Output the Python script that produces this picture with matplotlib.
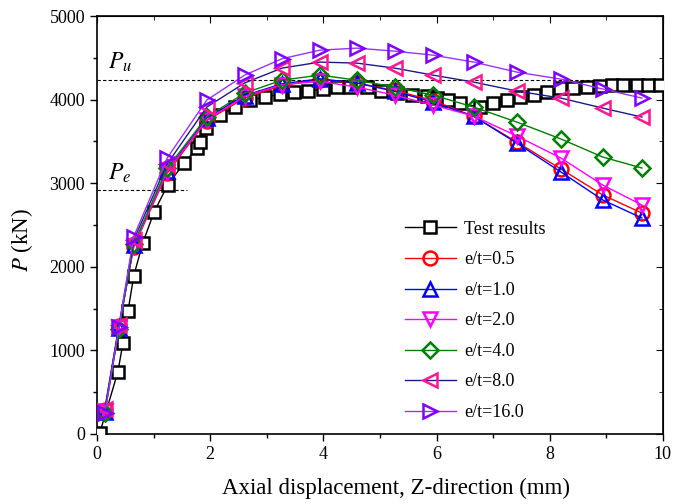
import matplotlib.pyplot as plt
from matplotlib.ticker import MultipleLocator

plt.rcParams['font.family'] = 'Liberation Serif'
plt.rcParams['mathtext.fontset'] = 'stix'

# test curve
test_x = [0.05, 0.37, 0.46, 0.55, 0.65, 0.81, 1.01, 1.25, 1.54, 1.77, 1.82, 1.93,
          2.17, 2.44, 2.70, 2.97, 3.23, 3.48, 3.73, 3.99, 4.24, 4.47, 4.77, 5.02,
          5.30, 5.57, 5.83, 6.00, 6.20, 6.41, 6.77, 7.00, 7.24, 7.47, 7.72, 7.95,
          8.18, 8.41, 8.66, 8.89, 9.10, 9.29, 9.54, 9.73, 9.95]
test_p = [10, 742, 1089, 1471, 1890, 2285, 2656, 2978, 3242, 3421, 3493, 3660,
          3816, 3911, 3995, 4031, 4067, 4091, 4103, 4127, 4151, 4151, 4151, 4103,
          4079, 4055, 4043, 4019, 3995, 3959, 3911, 3959, 3995, 4031, 4055, 4091,
          4139, 4139, 4151, 4163, 4175, 4175, 4175, 4175, 4175]

# FE curves for each eccentricity ratio
fe_x = [0.14, 0.39, 0.65, 1.24, 1.94, 2.61, 3.27, 3.94, 4.59, 5.26, 5.94, 6.66,
        7.42, 8.20, 8.94, 9.63]
p_05 = [290, 1290, 2240, 3120, 3750, 4020, 4170, 4240, 4200, 4110, 3990, 3800,
        3493, 3170, 2859, 2643]
p_10 = [260, 1270, 2260, 3150, 3780, 4050, 4190, 4250, 4200, 4100, 3970, 3800,
        3480, 3134, 2799, 2584]
p_20 = [270, 1280, 2250, 3140, 3760, 4040, 4180, 4220, 4151, 4055, 3935, 3804,
        3565, 3301, 2978, 2739]
p_40 = [250, 1260, 2270, 3180, 3792, 4079, 4234, 4294, 4234, 4151, 4055, 3911,
        3732, 3529, 3313, 3182]
p_80 = [300, 1300, 2320, 3230, 3911, 4200, 4378, 4450, 4438, 4378, 4294, 4210,
        4103, 4019, 3899, 3792]
p_160 = [250, 1280, 2360, 3300, 3995, 4294, 4490, 4593, 4617, 4581, 4533, 4450,
         4330, 4246, 4127, 4019]

P_u = 4230
P_e = 2920

fig = plt.figure(figsize=(6.73, 5.04), dpi=100)
ax = fig.add_axes([0.144, 0.139, 0.841, 0.829])

ms = 9
mew = 1.8
ax.plot(test_x, test_p, color='black', lw=1, marker='s', ms=ms, mfc='white',
        mec='black', mew=mew, label='Test results', zorder=3)
series = [
    (p_05, 'e/t=0.5', 'red', 'red', 'o'),
    (p_10, 'e/t=1.0', 'blue', 'blue', '^'),
    (p_20, 'e/t=2.0', '#ff00ff', '#ff00ff', 'v'),
    (p_40, 'e/t=4.0', '#008000', '#008000', 'D'),
    (p_80, 'e/t=8.0', '#1a1a8c', '#ff1493', '<'),
    (p_160, 'e/t=16.0', '#9933ff', '#8000ff', '>'),
]
for p, lab, lc, mc, m in series:
    size = ms - 1 if m == 'D' else ms + 1
    ax.plot(fe_x, p, color=lc, lw=1, marker=m, ms=size, mfc='none',
            mec=mc, mew=mew, label=lab, zorder=4)

ax.plot([0, 10], [P_u, P_u], ls='--', color='black', lw=0.8, dashes=(3, 2))
ax.plot([0, 1.6], [P_e, P_e], ls='--', color='black', lw=0.8, dashes=(3, 2))
ax.text(0.2, 4370, r'$P_u$', fontsize=17)
ax.text(0.2, 3040, r'$P_e$', fontsize=17)

ax.set_xlim(0, 10)
ax.set_ylim(0, 5000)
ax.xaxis.set_major_locator(MultipleLocator(2))
ax.xaxis.set_minor_locator(MultipleLocator(1))
ax.yaxis.set_major_locator(MultipleLocator(1000))
ax.yaxis.set_minor_locator(MultipleLocator(500))
ax.tick_params(which='both', direction='out', labelsize=13, width=1)
ax.tick_params(which='major', length=5)
ax.tick_params(which='minor', length=3)

top = ax.secondary_xaxis('top')
top.xaxis.set_major_locator(MultipleLocator(2))
top.xaxis.set_minor_locator(MultipleLocator(1))
top.tick_params(which='both', direction='in', labeltop=False)
top.tick_params(which='major', length=5)
top.tick_params(which='minor', length=3)
right = ax.secondary_yaxis('right')
right.yaxis.set_major_locator(MultipleLocator(1000))
right.yaxis.set_minor_locator(MultipleLocator(500))
right.tick_params(which='both', direction='in', labelright=False)
right.tick_params(which='major', length=5)
right.tick_params(which='minor', length=3)

for s in ax.spines.values():
    s.set_linewidth(1.2)

ax.set_xlabel('Axial displacement, Z-direction (mm)', fontsize=16.5)
ax.set_ylabel(r'$P$ (kN)', fontsize=16.5)
ax.xaxis.set_label_coords(0.528, -0.105)
ax.yaxis.set_label_coords(-0.11, 0.464)

ax.legend(loc='lower left', bbox_to_anchor=(0.516, -0.008), frameon=False,
          fontsize=13, handlelength=2.8, handletextpad=0.45, labelspacing=0.75)

fig.savefig('out.png', dpi=100)
